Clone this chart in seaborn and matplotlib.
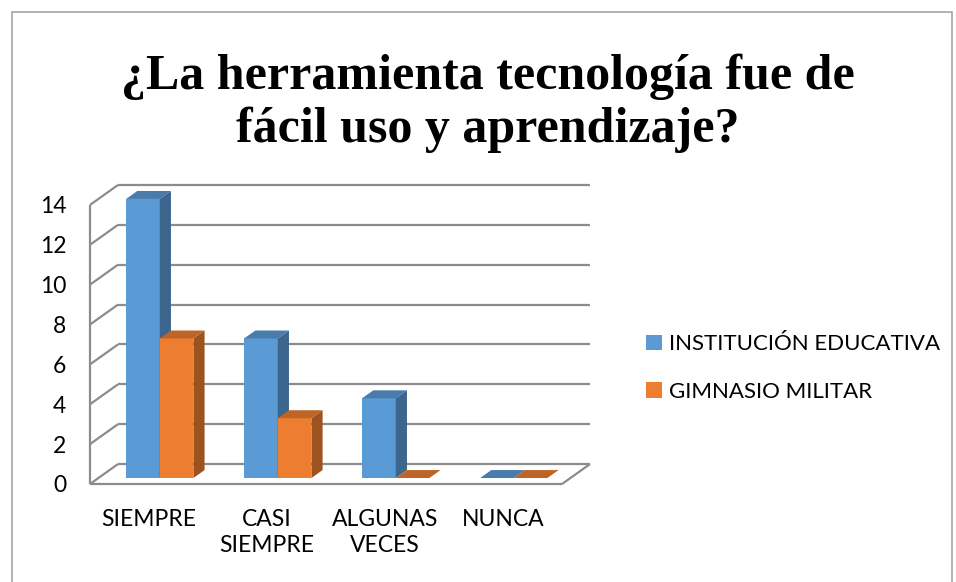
import numpy as np
import pandas as pd
import seaborn as sns
import matplotlib.pyplot as plt
from matplotlib.patches import Polygon, Rectangle

# data
categories = ["SIEMPRE", "CASI\nSIEMPRE", "ALGUNAS\nVECES", "NUNCA"]
groups = ["INSTITUCIÓN EDUCATIVA", "GIMNASIO MILITAR"]
institucion = [14, 7, 4, 0]
gimnasio = [7, 3, 0, 0]
yticks = [0, 2, 4, 6, 8, 10, 12, 14]
title = "¿La herramienta tecnología fue de\nfácil uso y aprendizaje?"

df = pd.DataFrame({
    "categoria": categories * 2,
    "grupo": [groups[0]] * len(categories) + [groups[1]] * len(categories),
    "valor": institucion + gimnasio,
})

sns.set_style("white")
plt.rcParams["font.family"] = ["Lato", "DejaVu Sans"]
plt.rcParams["text.color"] = "black"
plt.rcParams["xtick.color"] = "black"
plt.rcParams["ytick.color"] = "black"

W, H = 956, 582
fig = plt.figure(figsize=(W / 100, H / 100), dpi=100)
# axes placed in pixel terms: front plane x 90..562, value 0 at y=484, 15 at y=185
ax = fig.add_axes([90 / W, (H - 484) / H, 500 / W, 300 / H])

sns.barplot(data=df, x="categoria", y="valor", hue="grupo",
            palette=["#5B9BD5", "#ED7D31"], width=0.57, saturation=1,
            linewidth=0, ax=ax)

# fake 3d depth (wall depth in data units) and bar depth inside it
depth_x, depth_y = 0.237, 1.0
f0, f1 = 0.3, 0.7
n_cat = len(categories)

for i, p in enumerate(ax.patches):
    x0 = p.get_x() + f0 * depth_x + 0.02
    y0 = f0 * depth_y
    w, h = p.get_width(), p.get_height()
    bdx, bdy = (f1 - f0) * depth_x, (f1 - f0) * depth_y
    base = np.array(p.get_facecolor()[:3])
    z = 3 + i // n_cat
    p.set_x(x0)
    p.set_y(y0)
    p.set_zorder(z)
    top = Polygon([(x0, y0 + h), (x0 + w, y0 + h), (x0 + w + bdx, y0 + h + bdy),
                   (x0 + bdx, y0 + h + bdy)], closed=True,
                  facecolor=base * 0.8, edgecolor="none", zorder=z)
    side = Polygon([(x0 + w, y0), (x0 + w + bdx, y0 + bdy),
                    (x0 + w + bdx, y0 + h + bdy), (x0 + w, y0 + h)], closed=True,
                   facecolor=base * 0.66, edgecolor="none", zorder=z)
    ax.add_patch(top)
    ax.add_patch(side)

x_left, x_right = -0.5, n_cat - 0.5
grid_kw = dict(color="#8C8C8C", lw=1.6, zorder=1, clip_on=False, solid_capstyle="butt")
for v in yticks:
    # back wall line and the left wall diagonal
    ax.plot([x_left + depth_x, x_right + depth_x], [v + depth_y, v + depth_y], **grid_kw)
    ax.plot([x_left, x_left + depth_x], [v, v + depth_y], **grid_kw)
# front edges
ax.plot([x_left, x_left], [0, yticks[-1]], **grid_kw)
ax.plot([x_left, x_right], [0, 0], **grid_kw)
ax.plot([x_right, x_right + depth_x], [0, depth_y], **grid_kw)

ax.set_xlim(x_left, x_right + depth_x)
ax.set_ylim(0, 15.05)
ax.set_yticks(yticks)
ax.set_xlabel("")
ax.set_ylabel("")
ax.tick_params(axis="y", length=0, pad=17, labelsize=16.5, labelcolor="black")
ax.tick_params(axis="x", length=0, pad=18, labelsize=16.5, labelcolor="black")
for t in ax.get_xticklabels():
    t.set_linespacing(1.3)
    t.set_va("top")
sns.despine(ax=ax, left=True, bottom=True)
ax.patch.set_alpha(0)

old = ax.get_legend()
handles = old.legend_handles
labels = [t.get_text() for t in old.get_texts()]
ax.legend(handles, labels, loc="center left", bbox_to_anchor=(646 / W, 1 - 368 / H),
          bbox_transform=fig.transFigure, frameon=False, fontsize=16,
          handlelength=0.7, handleheight=0.7, handletextpad=0.35,
          labelspacing=1.25, borderpad=0, borderaxespad=0, labelcolor="black")

fig.text(488 / W, 1 - 54 / H, title, ha="center", va="top", fontsize=36,
         fontweight="bold", family=["Liberation Serif", "DejaVu Serif"],
         linespacing=1.18, color="black")

# outer chart border
fig.patches.append(Rectangle((12 / W, -0.05), 940 / W, 1 - 12 / H + 0.05,
                             transform=fig.transFigure, fill=False,
                             edgecolor="#A6A6A6", lw=1.2))

fig.savefig("out.png", dpi=100)
